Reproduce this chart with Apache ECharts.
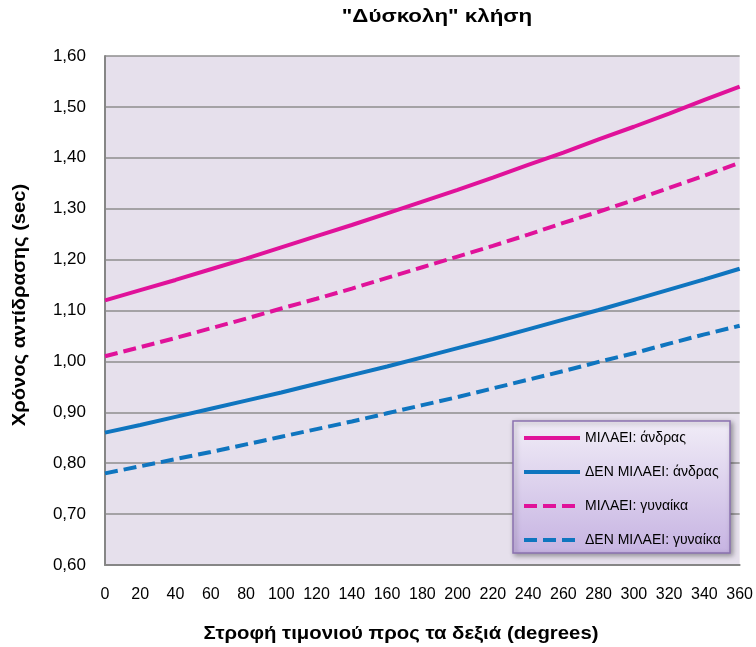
<!DOCTYPE html>
<html>
<head>
<meta charset="utf-8">
<script src="https://cdn.jsdelivr.net/npm/echarts@6/dist/echarts.min.js"></script>
<style>html,body{margin:0;padding:0;background:#fff;}#c{width:756px;height:647px;}</style>
</head>
<body>
<div id="c"></div>
<script>
const degrees = [0,20,40,60,80,100,120,140,160,180,200,220,240,260,280,300,320,340,360];
const seriesNames = ['ΜΙΛΑΕΙ: άνδρας','ΔΕΝ ΜΙΛΑΕΙ: άνδρας','ΜΙΛΑΕΙ: γυναίκα','ΔΕΝ ΜΙΛΑΕΙ: γυναίκα'];
const talkMan =     [1.120,1.140,1.160,1.181,1.202,1.224,1.246,1.268,1.291,1.314,1.337,1.361,1.386,1.410,1.436,1.461,1.487,1.514,1.540];
const noTalkMan =   [0.860,0.875,0.891,0.907,0.923,0.939,0.956,0.973,0.990,1.008,1.026,1.044,1.063,1.082,1.101,1.121,1.141,1.161,1.182];
const talkWoman =   [1.010,1.028,1.046,1.065,1.084,1.104,1.123,1.143,1.164,1.185,1.206,1.227,1.249,1.272,1.294,1.317,1.341,1.365,1.390];
const noTalkWoman = [0.780,0.794,0.808,0.822,0.837,0.852,0.867,0.882,0.898,0.914,0.930,0.947,0.964,0.981,0.999,1.016,1.035,1.053,1.070];
const titleText = '"Δύσκολη" κλήση';
const xName = 'Στροφή τιμονιού προς τα δεξιά (degrees)';
const yName = 'Χρόνος αντίδρασης (sec)';

const PINK = '#E0129A', BLUE = '#0F75BF';
const font = 'Arial, "Liberation Sans", sans-serif';
function pairs(vals){ return degrees.map((d,i)=>[d, vals[i]]); }

const chart = echarts.init(document.getElementById('c'), null, {renderer:'canvas'});
const mk = (name, vals, color, dashed) => ({
  name, type:'line', data: pairs(vals), showSymbol:false, symbol:'none', smooth:false,
  lineStyle:{color, width:4, type: dashed ? [13,6] : 'solid', cap:'butt'},
  itemStyle:{color}, z: 3
});
chart.setOption({
  animation:false,
  backgroundColor:'#ffffff',
  textStyle:{fontFamily:font},
  grid:{left:105, right:15, top:56, bottom:82, show:true, backgroundColor:'#E6E0EC', borderWidth:0},
  xAxis:{type:'value', min:0, max:360, interval:20,
    axisLine:{show:true, lineStyle:{color:'#868686', width:2}},
    axisTick:{show:false},
    splitLine:{show:false},
    axisLabel:{color:'#000', fontSize:16, margin:22, fontFamily:font}
  },
  yAxis:{type:'value', min:0.6, max:1.6, interval:0.1,
    axisLine:{show:true, lineStyle:{color:'#868686', width:2}},
    axisTick:{show:false},
    splitLine:{show:true, lineStyle:{color:'#8E8E8E', width:1.5}},
    axisLabel:{color:'#000', fontSize:17, margin:19, fontFamily:font,
      formatter: v => v.toFixed(2).replace('.', ',')}
  },
  legend:{
    orient:'vertical', left:512, top:421, z:10,
    padding:[10,10,8,10], itemGap:20, itemWidth:56, itemHeight:14,
    data: seriesNames,
    itemStyle:{opacity:0},
    lineStyle:{width:4},
    textStyle:{color:'#000', fontSize:14, fontFamily:font},
    backgroundColor:'transparent', borderWidth:0
  },
  graphic:[
    {type:'rect', z:5, shape:{x:513, y:421, width:217, height:132},
      style:{fill:new echarts.graphic.LinearGradient(0,0,0,1,[{offset:0,color:'#F1EDF7'},{offset:1,color:'#C6B3E2'}]),
        stroke:'#8A72B0', lineWidth:1.5, shadowBlur:5, shadowColor:'rgba(0,0,0,0.35)', shadowOffsetX:2, shadowOffsetY:2}},
    {type:'text', z:5, x:437, y:8, scaleX:1.24, originX:0,
      style:{text:titleText, font:'bold 18px '+font, fill:'#000', textAlign:'center'}},
    {type:'text', z:5, x:401, y:625, scaleX:1.13,
      style:{text:xName, font:'bold 18px '+font, fill:'#000', textAlign:'center'}},
    {type:'text', z:5, x:11, y:305, rotation:Math.PI/2, scaleX:1.12,
      style:{text:yName, font:'bold 18px '+font, fill:'#000', textAlign:'center'}}
  ],
  series:[
    mk(seriesNames[0], talkMan, PINK, false),
    mk(seriesNames[1], noTalkMan, BLUE, false),
    mk(seriesNames[2], talkWoman, PINK, true),
    mk(seriesNames[3], noTalkWoman, BLUE, true)
  ]
});
</script>
</body>
</html>
